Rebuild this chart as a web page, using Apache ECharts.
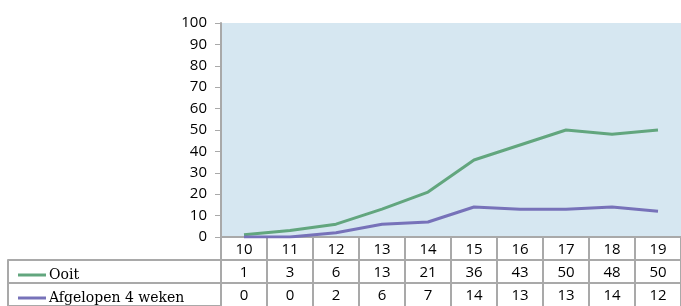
<!DOCTYPE html>
<html>
<head>
<meta charset="utf-8">
<script src="https://cdn.jsdelivr.net/npm/echarts@6/dist/echarts.min.js"></script>
<style>
    html, body { margin: 0; padding: 0; background: #fff; }
    #chart { width: 681px; height: 306px; }
</style>
</head>
<body>
<div id="chart"></div>
<script>
// Chart data
// ------------------------------

var categories = ['10', '11', '12', '13', '14', '15', '16', '17', '18', '19'];
var seriesNames = ['Ooit', 'Afgelopen 4 weken'];
var ooit = [1, 3, 6, 13, 21, 36, 43, 50, 48, 50];
var afgelopen = [0, 0, 2, 6, 7, 14, 13, 13, 14, 12];
var yTicks = { min: 0, max: 100, interval: 10 };


// Setup
// ------------------------------

var numFont = '"Open Sans", sans-serif';
var labelFont = '"DejaVu Serif", serif';
var gridLine = '#a9a9a9';
var colors = ['#62a67e', '#7772b9'];

var plotLeft = 221, plotWidth = 462;
var rowH = 23, tableTop = 260;

var chart = echarts.init(document.getElementById('chart'));

// one table row: top border + cell dividers + values as labels
var rowAxis = function(idx, values) {
    return {
        gridIndex: idx,
        type: 'category',
        position: 'top',
        data: values.map(String),
        boundaryGap: true,
        axisLine: { show: true, onZero: false, lineStyle: { color: gridLine, width: 2 } },
        axisTick: { show: true, inside: true, length: rowH, interval: 0, lineStyle: { color: gridLine, width: 2 } },
        axisLabel: { inside: true, interval: 0, margin: 5, color: '#000', fontFamily: numFont, fontSize: 15 },
        splitLine: { show: false }
    };
};

// row label (legend key + name), one per table row
var rowLegend = function(i) {
    return {
        data: [seriesNames[i]],
        left: 13,
        top: tableTop + 3 + i * rowH,
        icon: 'rect',
        itemWidth: 28,
        itemHeight: 3,
        itemGap: 0,
        textStyle: { fontFamily: labelFont, fontSize: 14, color: '#000', padding: [0, 0, 0, -2] }
    };
};

chart.setOption({
    animation: false,
    color: colors,
    textStyle: { fontFamily: numFont },

    grid: [
        // plot area
        { left: plotLeft, top: 23, width: plotWidth, height: 214, show: true, backgroundColor: '#d6e7f1', borderWidth: 0 },
        // value rows
        { left: plotLeft, top: tableTop, width: plotWidth, height: rowH },
        { left: plotLeft, top: tableTop + rowH, width: plotWidth, height: rowH },
        // row label column
        { left: 8, top: tableTop, width: plotLeft - 8, height: rowH * 2 }
    ],

    legend: [rowLegend(0), rowLegend(1)],

    xAxis: [
        {
            gridIndex: 0,
            type: 'category',
            data: categories,
            boundaryGap: true,
            axisLine: { show: true, lineStyle: { color: gridLine, width: 2 } },
            axisTick: { show: true, length: rowH, interval: 0, lineStyle: { color: gridLine, width: 2 } },
            axisLabel: { interval: 0, margin: 5, color: '#000', fontFamily: numFont, fontSize: 15 },
            splitLine: { show: false }
        },
        rowAxis(1, ooit),
        rowAxis(2, afgelopen),
        { gridIndex: 3, type: 'value', show: false }
    ],

    yAxis: [
        {
            gridIndex: 0,
            type: 'value',
            min: yTicks.min,
            max: yTicks.max,
            interval: yTicks.interval,
            axisLine: { show: true, lineStyle: { color: gridLine, width: 2 } },
            axisTick: { show: true, length: 6, lineStyle: { color: gridLine, width: 1 } },
            axisLabel: { margin: 14, color: '#000', fontFamily: numFont, fontSize: 15 },
            splitLine: { show: false }
        },
        { gridIndex: 1, type: 'category', data: ['a'], show: false },
        { gridIndex: 2, type: 'category', data: ['a'], show: false },
        {
            gridIndex: 3,
            type: 'category',
            inverse: true,
            data: seriesNames,
            axisLine: { show: true, lineStyle: { color: gridLine, width: 2 } },
            axisTick: { show: false },
            axisLabel: { show: false },
            splitLine: { show: true, interval: 0, lineStyle: { color: gridLine, width: 2 } }
        }
    ],

    series: [
        {
            name: seriesNames[0],
            type: 'line',
            data: ooit,
            symbol: 'none',
            lineStyle: { width: 3, color: colors[0] }
        },
        {
            name: seriesNames[1],
            type: 'line',
            data: afgelopen,
            symbol: 'none',
            lineStyle: { width: 3, color: colors[1] }
        }
    ]
});
</script>
</body>
</html>
